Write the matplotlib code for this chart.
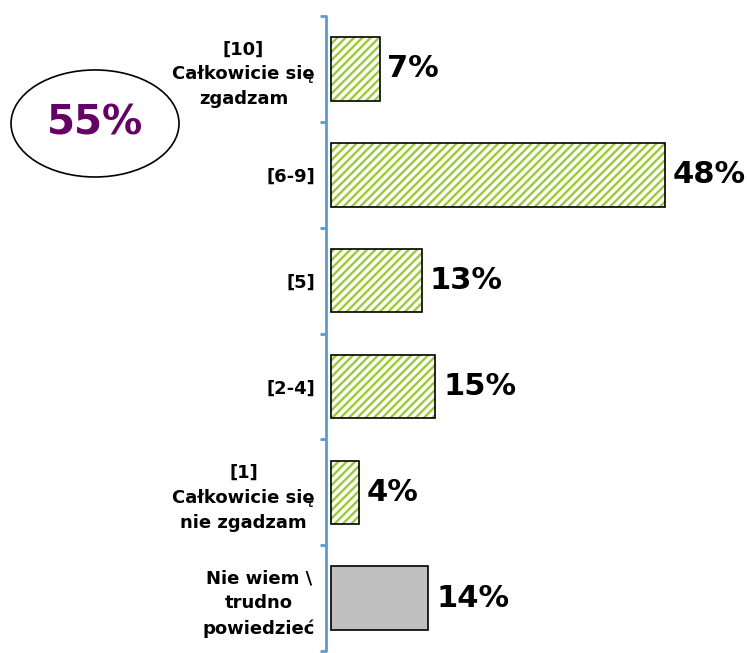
import matplotlib.pyplot as plt
from matplotlib.patches import Ellipse

# Survey answers, top to bottom
CATEGORIES = [
    "[10]\nCałkowicie się\nzgadzam",
    "[6-9]",
    "[5]",
    "[2-4]",
    "[1]\nCałkowicie się\nnie zgadzam",
    "Nie wiem \\\ntrudno\npowiedzieć",
]
VALUES = [7, 48, 13, 15, 4, 14]
TOTAL_LABEL = "55%"

GREEN = "#99CC33"
GREY = "#C0C0C0"
AXIS_BLUE = "#5B9BD5"
PURPLE = "#660066"

plt.rcParams["font.family"] = "DejaVu Sans"
plt.rcParams["hatch.linewidth"] = 1.7

fig = plt.figure(figsize=(7.47, 6.53), dpi=100)
ax = fig.add_axes([0.4364, 0.003, 0.472, 0.9725])

pos = list(range(len(CATEGORIES)))
colors = [GREEN] * 5 + [GREY]
for y, v, c in zip(pos, VALUES, colors):
    if c == GREEN:
        # hatch takes the edge colour, so draw the stripes first, outline on top
        ax.barh(y, v, height=0.6, color="white", edgecolor=GREEN,
                hatch="////", linewidth=0)
        ax.barh(y, v, height=0.6, facecolor="none", edgecolor="black",
                linewidth=1.2)
    else:
        ax.barh(y, v, height=0.6, color=c, edgecolor="black", linewidth=1.2)
    ax.text(v + 1.1, y, f"{v}%", va="center", ha="left",
            fontsize=22, fontweight="bold", clip_on=False)

ax.set_xlim(-0.75, 50)
ax.set_ylim(len(CATEGORIES) - 0.5, -0.5)

for side in ("top", "right", "bottom"):
    ax.spines[side].set_visible(False)
ax.spines["left"].set_color(AXIS_BLUE)
ax.spines["left"].set_linewidth(2)
ax.spines["left"].set_capstyle("round")

ax.set_xticks([])
ax.set_yticks(pos)
ax.set_yticklabels(CATEGORIES, fontsize=13, fontweight="bold",
                   multialignment="center", linespacing=1.5)
ax.tick_params(axis="y", which="major", length=0, pad=8)
ax.set_yticks([p - 0.5 for p in pos] + [len(pos) - 0.5], minor=True)
ax.tick_params(axis="y", which="minor", length=4, width=2,
               color=AXIS_BLUE, direction="out")

# overall score in an ellipse on the left
fig.patches.append(Ellipse((0.1272, 0.8109), 0.2249, 0.1639,
                           transform=fig.transFigure, facecolor="white",
                           edgecolor="black", linewidth=1.2))
fig.text(0.1272, 0.8109, TOTAL_LABEL, ha="center", va="center",
         fontsize=29, fontweight="bold", color=PURPLE)

fig.savefig("out.png", dpi=100)
